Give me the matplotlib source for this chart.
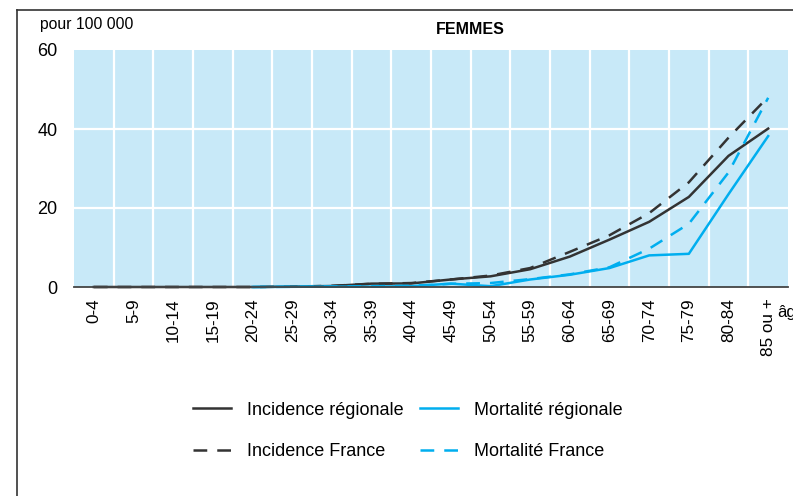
import numpy as np
import matplotlib.pyplot as plt
from matplotlib.lines import Line2D

plt.rcParams['font.family'] = ['Liberation Sans', 'DejaVu Sans']

ages = ['0-4', '5-9', '10-14', '15-19', '20-24', '25-29', '30-34', '35-39', '40-44',
        '45-49', '50-54', '55-59', '60-64', '65-69', '70-74', '75-79', '80-84', '85 ou +']

incidence_reg = [0, 0, 0, 0, 0, 0.1, 0.25, 0.85, 0.9, 1.9, 2.7, 4.5, 7.7, 12, 16.5, 22.8, 33.2, 40.1]
incidence_fr = [0, 0, 0, 0, 0, 0.1, 0.3, 0.8, 1.0, 1.9, 2.9, 4.8, 8.9, 13.1, 18.7, 26.5, 37.8, 48.1]
mortalite_reg = [np.nan, np.nan, np.nan, np.nan, 0, 0.05, 0.1, 0.1, 0.2, 0.85, 0.2, 1.9, 3.1, 4.8, 8.0, 8.4, 23.5, 38.2]
mortalite_fr = [np.nan, np.nan, np.nan, np.nan, 0, 0.05, 0.1, 0.2, 0.3, 0.8, 1.0, 2.0, 3.2, 5.0, 9.7, 16.0, 29.0, 47.9]

dark = '#333333'
blue = '#00aeef'
bg = '#c8e9f8'

fig = plt.figure(figsize=(7.93, 4.96), dpi=100)
ax = fig.add_axes([74 / 793, 1 - 287 / 496, 714 / 793, 237 / 496])
ax.set_facecolor(bg)

x = np.arange(len(ages))
dash = (5.5, 4)
lw = 1.8
l1, = ax.plot(x, incidence_reg, color=dark, lw=lw, label='Incidence régionale')
l2, = ax.plot(x, incidence_fr, color=dark, lw=lw, dashes=dash, label='Incidence France')
l3, = ax.plot(x, mortalite_reg, color=blue, lw=lw, label='Mortalité régionale')
l4, = ax.plot(x, mortalite_fr, color=blue, lw=lw, dashes=dash, label='Mortalité France')
for l in (l1, l2, l3, l4):
    l.set_clip_on(False)

ax.set_xlim(-0.5, len(ages) - 0.5)
ax.set_ylim(0, 60)
ax.set_xticks(x)
ax.set_xticklabels(ages, rotation=90, fontsize=12.3, va='top', ha='center')
ax.set_yticks([0, 20, 40, 60])
ax.set_yticklabels(['0', '20', '40', '60'], fontsize=13)
ax.tick_params(axis='both', length=0)
ax.tick_params(axis='x', pad=8)
ax.tick_params(axis='y', pad=12)

# white grid: category separators and horizontal lines
for b in np.arange(0.5, len(ages) - 0.5, 1):
    ax.axvline(b, color='white', lw=1.6, zorder=0.5)
for yv in (20, 40):
    ax.axhline(yv, color='white', lw=1.6, zorder=0.5)

for s in ('top', 'right', 'left'):
    ax.spines[s].set_visible(False)
ax.spines['bottom'].set_color('#444444')
ax.spines['bottom'].set_linewidth(1.3)

fig.text(40 / 793, 1 - 24 / 496, 'pour 100 000', fontsize=11.3, va='center', ha='left')
fig.text(470 / 793, 1 - 30 / 496, 'FEMMES', fontsize=11.5, fontweight='bold',
         va='center', ha='center')
fig.text(777 / 793, 1 - 313 / 496, 'âge', fontsize=12, va='center', ha='left')

# outer frame (left and top)
fig.add_artist(Line2D([17 / 793, 17 / 793], [0, 1 - 10 / 496], color='#333333', lw=1.2,
                      transform=fig.transFigure))
fig.add_artist(Line2D([17 / 793, 1], [1 - 10 / 496, 1 - 10 / 496], color='#333333', lw=1.2,
                      transform=fig.transFigure))

fig.legend(handles=[l1, l2, l3, l4], loc='center', bbox_to_anchor=(408 / 793, 1 - 431 / 496),
           ncol=2, frameon=False, fontsize=13, handlelength=2.1, handletextpad=0.9,
           columnspacing=0.9, labelspacing=1.35)

fig.savefig('out.png', dpi=100)
